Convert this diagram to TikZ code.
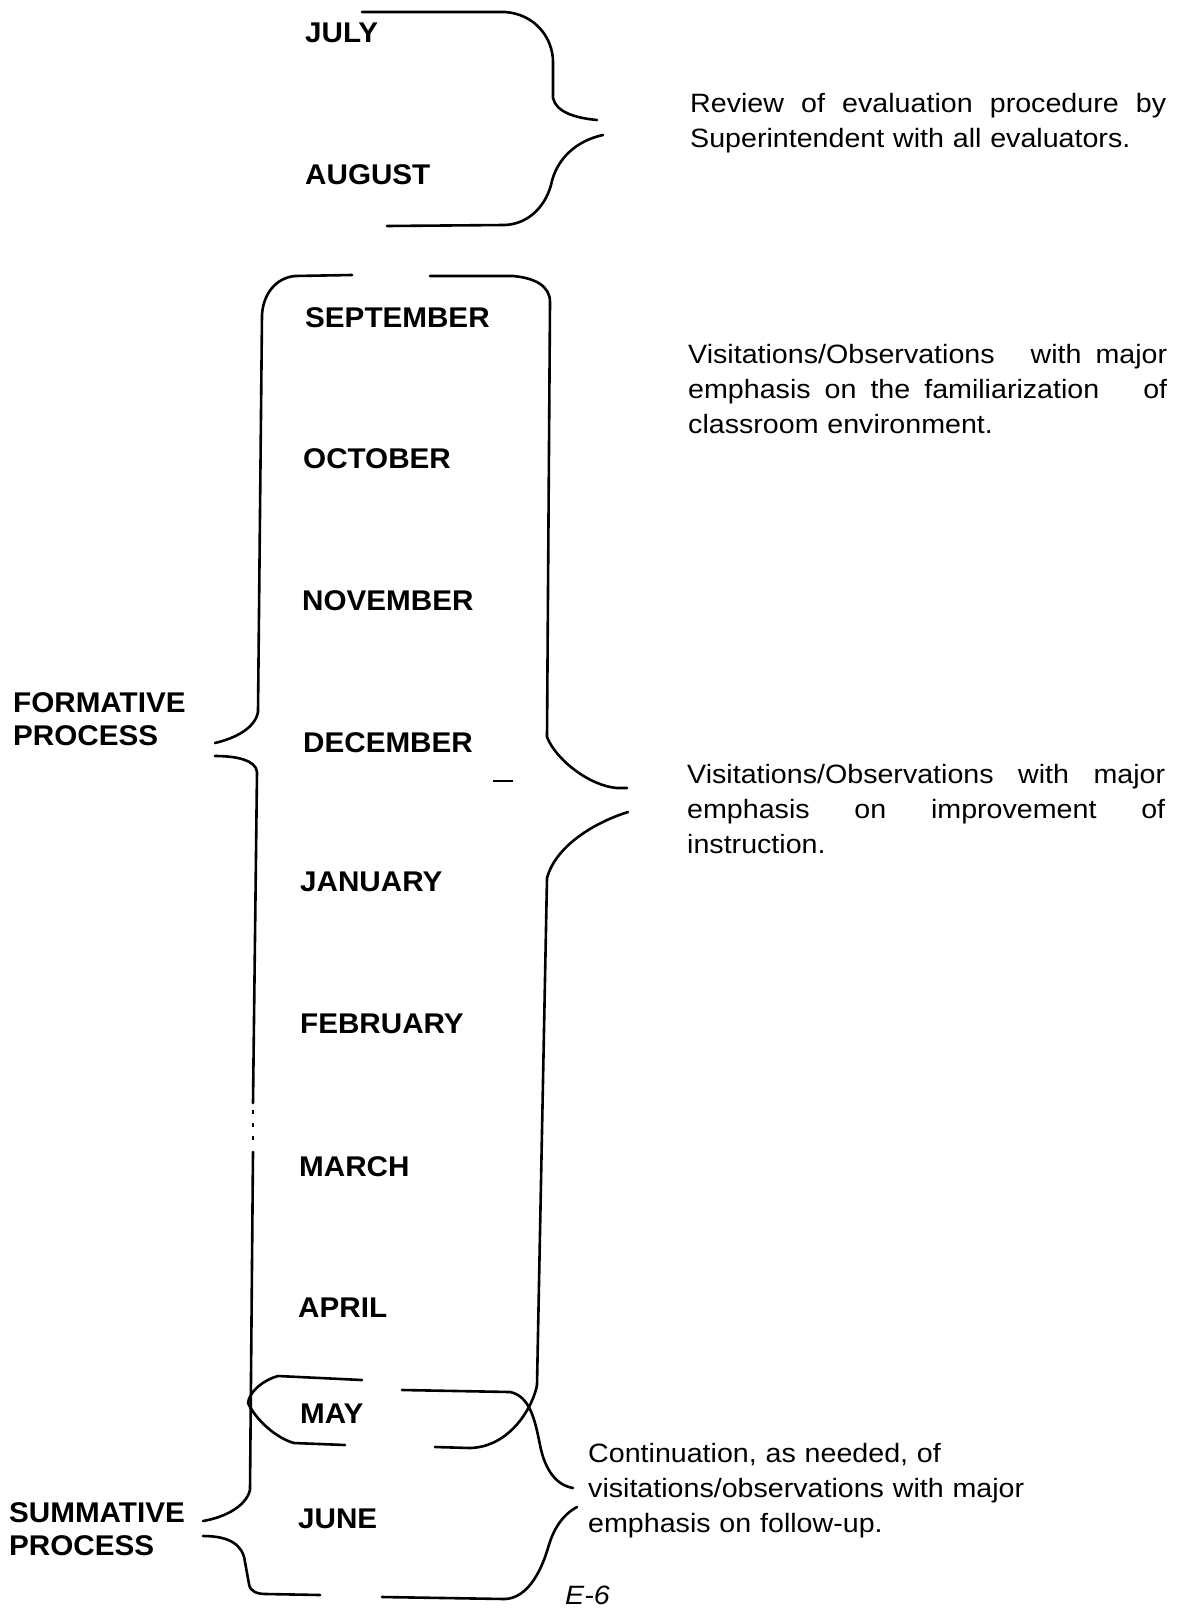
\documentclass[tikz,border=0pt]{standalone}
\usepackage{fontspec}
\setmainfont{Liberation Sans}
\newfontfamily\monthfont[FakeStretch=1.04]{Liberation Sans}
\newfontfamily\notefont[FakeStretch=1.08]{Liberation Sans}
\begin{document}
\begin{tikzpicture}[x=1pt,y=-1pt,
  month/.style={anchor=base west, inner sep=0pt, font=\monthfont\fontsize{28.5}{34}\selectfont\bfseries},
  side/.style={anchor=base west, inner sep=0pt, align=left, font=\monthfont\fontsize{28.5}{32.5}\selectfont\bfseries},
  note/.style={anchor=base west, inner sep=0pt, text width=480pt, align=left, font=\notefont\fontsize{26.5}{35}\selectfont},
  brace/.style={draw=black, line width=2.6pt, line cap=round, line join=round}]
\useasboundingbox (0,0) rectangle (1178,1608);
\fill[white] (0,0) rectangle (1178,1608);

% months
\node[month] (jul) at (305,43) {JULY};
\node[month] (aug) at (305,185) {AUGUST};
\node[month] (sep) at (305,327) {SEPTEMBER};
\node[month] (oct) at (303,468) {OCTOBER};
\node[month] (nov) at (302,610) {NOVEMBER};
\node[month] (dec) at (303,752) {DECEMBER};
\node[month] (jan) at (300,891) {JANUARY};
\node[month] (feb) at (300,1033) {FEBRUARY};
\node[month] (mar) at (299,1176) {MARCH};
\node[month] (apr) at (298,1317) {APRIL};
\node[month] (may) at (300,1423) {MAY};
\node[month] (jun) at (298,1528) {JUNE};

% side labels (base = last line)
\node[side] (form) at (13,745) {FORMATIVE\\PROCESS};
\node[side] (summ) at (9,1555) {SUMMATIVE\\PROCESS};

% notes (base = first line)
\node[note] (n1) at (690,113) {\makebox[476pt][s]{Review\hfill of\hfill evaluation\hfill procedure\hfill by}\\Superintendent with all evaluators.};
\node[note] (n2) at (688,363) {\makebox[479pt][s]{Visitations/Observations\hspace{22pt}\hfill with\hfill major}\\\makebox[479pt][s]{emphasis\hfill on\hfill the\hfill familiarization\hspace{30pt}\hfill of}\\classroom environment.};
\node[note] (n3) at (687,783) {\makebox[478pt][s]{Visitations/Observations\hfill with\hfill major}\\\makebox[478pt][s]{emphasis\hfill on\hfill improvement\hfill of}\\instruction.};
\node[note] (n4) at (588,1462) {Continuation, as needed, of\\visitations/observations with major\\emphasis on follow-up.};
\node[anchor=base west, inner sep=0pt, font=\notefont\fontsize{26.5}{32}\selectfont\itshape] (pg) at (565,1604) {E-6};

% July / August brace
\draw[brace] (362,12) -- (505,12) .. controls (535,14) and (553,38) .. (553,62) -- (553,98) .. controls (556,112) and (575,118) .. (597,120);
\draw[brace] (603,135) .. controls (575,141) and (556,160) .. (551,185) .. controls (545,207) and (528,224) .. (505,225) -- (387,226);

% Formative brace (left)
\draw[brace] (352,275) -- (295,276) .. controls (275,278) and (263,295) .. (262,315) -- (258,712) .. controls (255,728) and (236,738) .. (215,743);
\draw[brace] (215,756) .. controls (236,756) and (256,760) .. (257,772) -- (253,1103);
\draw[line width=2pt, dash pattern=on 4pt off 9pt] (253,1110) -- (253,1148);
\draw[brace] (253,1152) -- (250,1490) .. controls (246,1506) and (226,1517) .. (203,1521);

% Summative lower
\draw[brace] (203,1536) .. controls (230,1536) and (243,1545) .. (245,1562) -- (249,1584) .. controls (250,1592) and (258,1594) .. (266,1594) -- (320,1595);

% September-December brace (right)
\draw[brace] (430,276) -- (513,276) .. controls (535,278) and (550,286) .. (550,302) -- (547,737) .. controls (556,760) and (590,786) .. (617,788) -- (627,788);

% January-May brace (right)
\draw[brace] (628,812) .. controls (596,822) and (556,845) .. (547,878) -- (537,1385) .. controls (533,1407) and (510,1447) .. (470,1448) -- (435,1447);

% May bracket (left)
\draw[brace] (362,1380) -- (278,1376) .. controls (263,1380) and (249,1392) .. (248,1403) .. controls (256,1420) and (276,1438) .. (294,1443) -- (345,1445);

% May-June brace (right)
\draw[brace] (402,1390) -- (510,1392) .. controls (530,1396) and (535,1420) .. (540,1445) .. controls (545,1470) and (556,1485) .. (573,1488);
\draw[brace] (577,1507) .. controls (562,1515) and (553,1530) .. (548,1548) .. controls (540,1575) and (526,1598) .. (505,1599) -- (382,1597);

% stray dash
\draw[line width=2pt] (493,781) -- (513,781);
\end{tikzpicture}
\end{document}
